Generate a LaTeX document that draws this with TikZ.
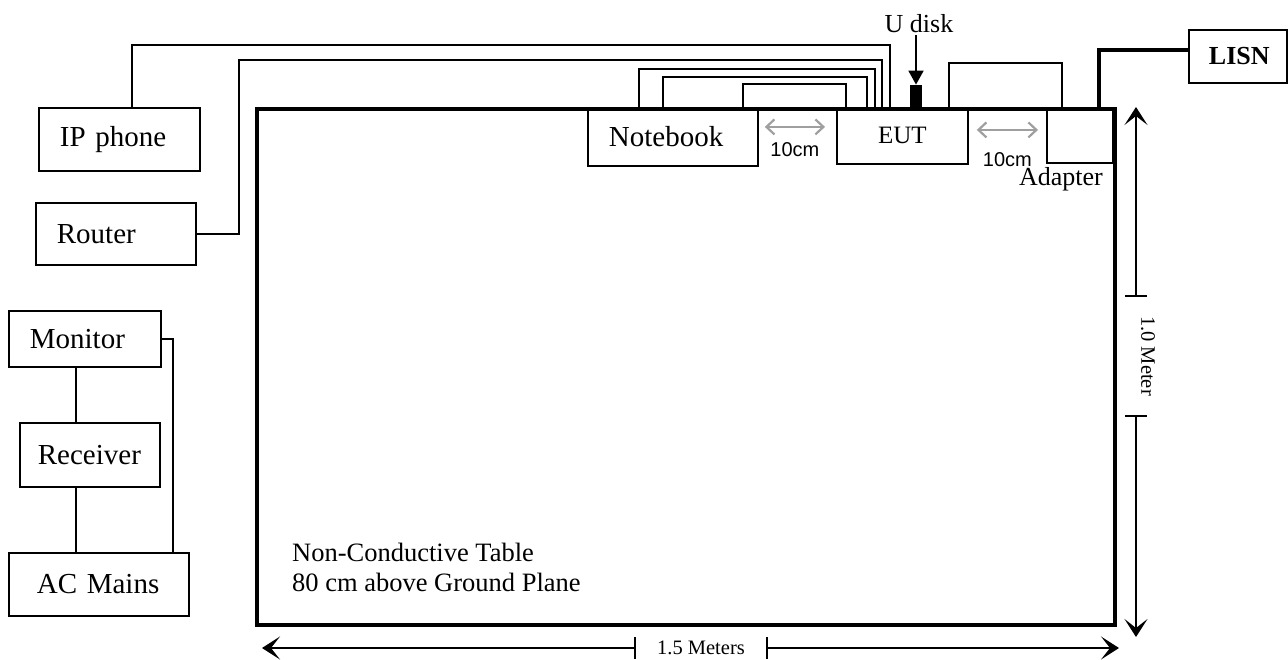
\documentclass[tikz,border=0pt]{standalone}
\usepackage{fontspec}
\setmainfont{Liberation Serif}
\newfontfamily\labelsans{Liberation Sans}
\usetikzlibrary{positioning, arrows.meta, calc}

\begin{document}
\begin{tikzpicture}[
  x=1pt, y=-1pt,
  font=\fontsize{29}{33}\selectfont,
  unit/.style={
    draw, line width=1.8pt, anchor=north west, align=left,
    inner ysep=0pt, inner xsep=21pt
  },
  tablebox/.style={
    draw, line width=4pt, anchor=north west,
    minimum width=858pt, minimum height=516pt
  },
  cable/.style={line width=1.6pt},
  power/.style={line width=4pt},
  gap/.style={
    draw=gray!75, line width=2.2pt,
    {Straight Barb[length=8pt,width=15pt]}-{Straight Barb[length=8pt,width=15pt]}
  },
  gaplabel/.style={font=\labelsans\fontsize{20}{24}\selectfont, text=black},
  dim/.style={line width=1.5pt, {Bar[width=22pt]}-{Stealth[length=18pt,width=23pt,inset=9pt]}},
  dimtext/.style={font=\fontsize{20.5}{24}\selectfont, inner ysep=0pt}
]
\useasboundingbox (0,0) rectangle (1288,659);

% table and the units round it
\node[tablebox] (table) at (255,107) {};
\node[unit, text width=119pt, minimum height=63pt] (ipphone) at (38,107) {IP phone};
\node[unit, text width=118pt, minimum height=62pt] (router) at (35,202) {Router};
\node[unit, text width=110pt, minimum height=56pt] (monitor) at (8,310) {Monitor};
\node[unit, inner xsep=18pt, text width=104pt, minimum height=64pt] (receiver) at (19,422) {Receiver};
\node[unit, inner xsep=28pt, text width=124pt, minimum height=63pt] (acmains) at (8,552) {AC Mains};
\node[unit, text width=128pt, minimum height=58pt] (notebook) at (587,107) {Notebook};
\node[unit, align=center, inner xsep=20pt, text width=91pt, minimum height=56pt,
  font=\fontsize{25}{30}\selectfont] (eut) at (836,107) {EUT};
\node[unit, inner xsep=0pt, minimum width=66pt, minimum height=54pt,
  label={[xshift=-19pt, font=\fontsize{26}{30}\selectfont]below:Adapter}] (adapter) at (1046,108) {};
\node[unit, align=center, inner xsep=20pt, text width=58pt, minimum height=53pt,
  font=\bfseries\fontsize{26}{30}\selectfont] (lisn) at (1188,29) {LISN};

% U disk
\node[fill, inner sep=0pt, minimum width=12pt, minimum height=22pt, anchor=south] (usb) at (916,107) {};
\node[font=\fontsize{26}{30}\selectfont, inner sep=2pt] (usblabel) at (919,24) {U disk};
\draw[line width=1.8pt, -{Triangle[length=14pt,width=15pt]}] (usblabel.south -| usb.north) -- (usb.north);

% cables
\draw[cable] ([xshift=94pt]ipphone.north west) -- ++(0,-62) -| ([xshift=54pt]eut.north west);
\draw[cable] (router.east) -- ++(42,0) -- ++(0,-174) -| ([xshift=46pt]eut.north west);
\draw[cable] ([xshift=52pt]notebook.north west) -- ++(0,-38) -| ([xshift=39pt]eut.north west);
\draw[cable] ([xshift=76pt]notebook.north west) -- ++(0,-30) -| ([xshift=31pt]eut.north west);
\draw[cable] ([xshift=156pt]notebook.north west) -- ++(0,-23) -| ([xshift=10pt]eut.north west);
\draw[cable] ([xshift=113pt]eut.north west) -- ++(0,-44) -| ([xshift=16pt]adapter.north west);
\draw[power] ([xshift=53pt]adapter.north west) |- ([yshift=6pt]lisn.west);
\draw[cable] ([xshift=68pt]monitor.south west) -- ([xshift=57pt]receiver.north west);
\draw[cable] ([xshift=57pt]receiver.south west) -- ([xshift=68pt]acmains.north west);
\draw[cable] (monitor.east) -| ([xshift=165pt]acmains.north west);

% spacing between units
\draw[gap] ($(notebook.east)+(6,-10)$) -- ($(notebook.east -| eut.west)+(-11,-10)$)
  node[midway, below=11pt, gaplabel] {10cm};
\draw[gap] ($(eut.east)+(8,-6)$) -- ($(eut.east -| adapter.west)+(-8,-6)$)
  node[midway, below=18pt, gaplabel] {10cm};

\node[anchor=south west, align=left, inner sep=0pt, font=\fontsize{26.5}{30}\selectfont]
  (tablenote) at ($(table.south west)+(37,-35)$) {Non-Conductive Table\\80 cm above Ground Plane};

% table size
\node[dimtext, inner xsep=21pt] (widthtxt) at (701,648) {1.5 Meters};
\draw[dim] (widthtxt.west) -- ($(widthtxt.west -| table.west)+(7,0)$);
\draw[dim] (widthtxt.east) -- ($(widthtxt.east -| table.east)+(2,0)$);

\node[dimtext, rotate=-90, inner xsep=19pt] (heighttxt) at (1148,356) {1.0 Meter};
\coordinate (htop) at ($(heighttxt.west)+(-12,0)$);
\coordinate (hbot) at ($(heighttxt.east)+(-12,0)$);
\draw[dim] (htop) -- (htop |- table.north);
\draw[dim] (hbot) -- ($(hbot |- table.south)+(0,10)$);
\end{tikzpicture}
\end{document}
